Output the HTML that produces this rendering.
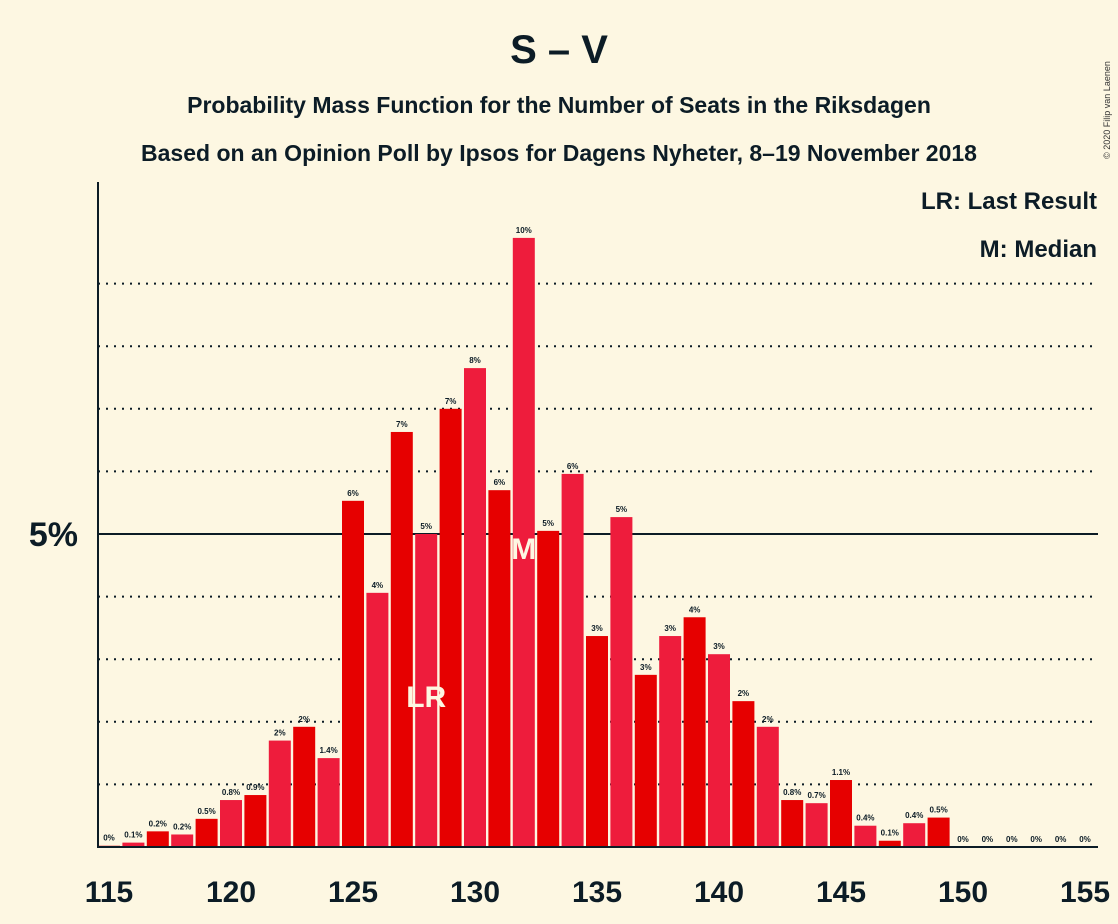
<!DOCTYPE html>
<html><head><meta charset="utf-8"><style>
body{margin:0;background:#fdf7e2;}
svg{display:block;font-family:"Liberation Sans",sans-serif;}
</style></head><body>
<svg id="c" width="1118" height="924">
<rect width="1118" height="924" fill="#fdf7e2"/>
<text x="559" y="63" text-anchor="middle" font-size="40" font-weight="bold" fill="#0c1c26">S – V</text>
<text x="559" y="113" text-anchor="middle" font-size="23" font-weight="bold" fill="#0c1c26">Probability Mass Function for the Number of Seats in the Riksdagen</text>
<text x="559" y="161" text-anchor="middle" font-size="23" font-weight="bold" fill="#0c1c26">Based on an Opinion Poll by Ipsos for Dagens Nyheter, 8–19 November 2018</text>
<text x="1110" y="110" font-size="9" fill="#333" transform="rotate(-90 1110 110)" text-anchor="middle">© 2020 Filip van Laenen</text>
<text x="1097" y="209" text-anchor="end" font-size="24" font-weight="bold" fill="#0c1c26">LR: Last Result</text>
<text x="1097" y="257" text-anchor="end" font-size="24" font-weight="bold" fill="#0c1c26">M: Median</text>
<g id="grid"></g><g id="bars"></g><g id="marks"></g><g id="axes"></g>
</svg>
<script>
const seats=[115,116,117,118,119,120,121,122,123,124,125,126,127,128,129,130,131,132,133,134,135,136,137,138,139,140,141,142,143,144,145,146,147,148,149,150,151,152,153,154,155];
const probs=[0.02,0.07,0.25,0.2,0.45,0.75,0.83,1.7,1.92,1.42,5.53,4.06,6.63,5.0,7.0,7.65,5.7,9.73,5.05,5.96,3.37,5.27,2.75,3.37,3.67,3.08,2.33,1.92,0.75,0.7,1.07,0.34,0.1,0.38,0.47,0,0,0,0,0,0];
const labels=["0%","0.1%","0.2%","0.2%","0.5%","0.8%","0.9%","2%","2%","1.4%","6%","4%","7%","5%","7%","8%","6%","10%","5%","6%","3%","5%","3%","3%","4%","3%","2%","2%","0.8%","0.7%","1.1%","0.4%","0.1%","0.4%","0.5%","0%","0%","0%","0%","0%","0%"];
const xTicks=[115,120,125,130,135,140,145,150,155];
const gridLevels=[1,2,3,4,6,7,8,9];
const lastResult=128, median=132;
const NS="http://www.w3.org/2000/svg";
const X=s=>109+(s-115)*24.4;
const Y=p=>847-p*62.6;
function mk(t,a,p){const e=document.createElementNS(NS,t);for(const k in a)e.setAttribute(k,a[k]);p.appendChild(e);return e;}
const g=document.getElementById('grid'),b=document.getElementById('bars'),mg=document.getElementById('marks'),ax=document.getElementById('axes');
gridLevels.forEach(v=>{const l=mk('line',{x1:98,x2:1098,y1:Y(v),y2:Y(v),stroke:'#0c1c26','stroke-width':2,'stroke-dasharray':'2,6'},g);

});
const l5=mk('line',{x1:98,x2:1098,y1:Y(5),y2:Y(5),stroke:'#0c1c26','stroke-width':2},g);


seats.forEach((s,i)=>{const p=probs[i];
if(p>0){const r=mk('rect',{x:X(s)-11,y:Y(p),width:22,height:847-Y(p),fill:s%2?'#e60000':'#ee1c3c'},b);

}
const t=mk('text',{x:X(s),y:Y(p)-5,'text-anchor':'middle','font-size':8,'font-weight':'bold',fill:'#0c1c26'},b);
t.textContent=labels[i];


if(s===lastResult){const m=mk('text',{x:X(s),y:707,'text-anchor':'middle','font-size':30,'font-weight':'bold',fill:'#fdf7e2'},mg);m.textContent='LR';

}
if(s===median){const m=mk('text',{x:X(s),y:559,'text-anchor':'middle','font-size':30,'font-weight':'bold',fill:'#fdf7e2'},mg);m.textContent='M';

}
});
const ya=mk('line',{x1:98,x2:98,y1:182,y2:848,stroke:'#0c1c26','stroke-width':2},ax);


const xa=mk('line',{x1:97,x2:1098,y1:847,y2:847,stroke:'#0c1c26','stroke-width':2},ax);


const yl=mk('text',{x:78,y:Y(5)+12,'text-anchor':'end','font-size':34,'font-weight':'bold',fill:'#0c1c26'},ax);yl.textContent='5%';


xTicks.forEach(s=>{const t=mk('text',{x:X(s),y:902,'text-anchor':'middle','font-size':30,'font-weight':'bold',fill:'#0c1c26'},ax);t.textContent=s;

});
</script>
</body></html>
